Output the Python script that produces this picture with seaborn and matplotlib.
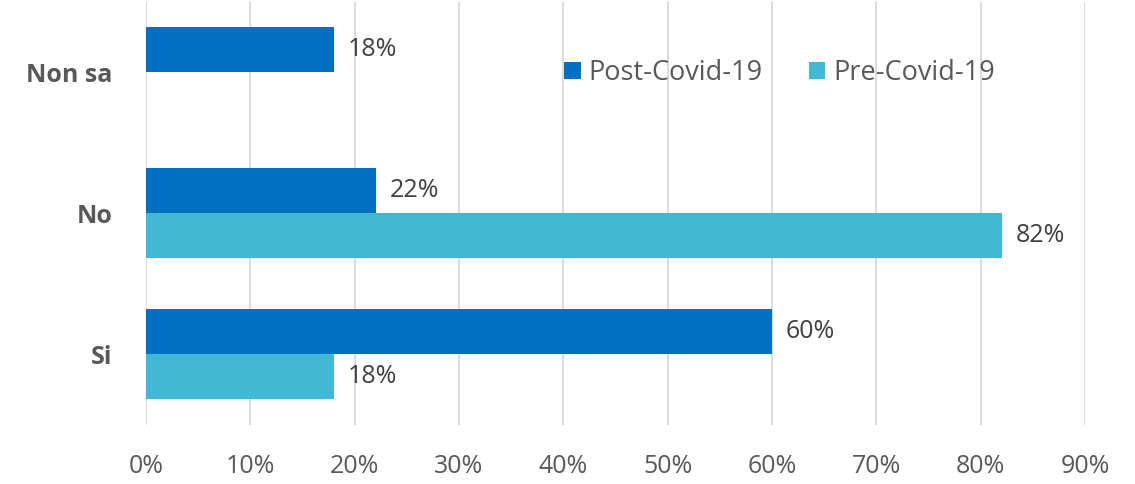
import numpy as np
import pandas as pd
import matplotlib
matplotlib.use("Agg")
import matplotlib.pyplot as plt
import seaborn as sns

categories = ["Non sa", "No", "Si"]
series = ["Post-Covid-19", "Pre-Covid-19"]
post_covid = [18, 22, 60]
pre_covid = [np.nan, 82, 18]
x_ticks = [0, 10, 20, 30, 40, 50, 60, 70, 80, 90]

colors = {"Post-Covid-19": "#0070C0", "Pre-Covid-19": "#41B9D4"}
text_color = "#595959"
label_color = "#404040"

df = pd.DataFrame({
    "Risposta": categories * 2,
    "Periodo": [series[0]] * 3 + [series[1]] * 3,
    "Valore": post_covid + pre_covid,
})

sns.set_theme(style="white")
plt.rcParams["font.family"] = ["Open Sans", "DejaVu Sans"]

fig = plt.figure(figsize=(11.35, 4.84), dpi=100)
ax = fig.add_axes([146 / 1135, 1 - 424.5 / 484, (1085 - 146) / 1135, 423 / 484])

sns.barplot(data=df, x="Valore", y="Risposta", hue="Periodo",
            order=categories, hue_order=series, palette=colors,
            orient="h", width=0.64, ax=ax, errorbar=None, saturation=1,
            linewidth=0)

for cont in ax.containers:
    vals = cont.datavalues
    labels = ["" if np.isnan(v) else f"{v:.0f}%" for v in vals]
    ax.bar_label(cont, labels=labels, padding=10, fontsize=18, color=label_color)

ax.set_xlim(0, 90)
ax.set_ylim(2.5, -0.5)
ax.set_xticks(x_ticks)
ax.set_xticklabels([f"{t}%" for t in x_ticks])
ax.tick_params(axis="x", length=0, pad=21, labelsize=18, labelcolor=text_color)
ax.tick_params(axis="y", length=0, pad=24, labelsize=18, labelcolor=text_color)
for lab in ax.get_yticklabels():
    lab.set_fontweight("bold")
ax.set_xlabel("")
ax.set_ylabel("")
ax.grid(axis="x", color="#D9D9D9", linewidth=1.3)
ax.set_axisbelow(True)
for s in ax.spines.values():
    s.set_visible(False)

ax.legend(loc="center left", bbox_to_anchor=((540 - 146) / 939, (424.5 - 73) / 423),
          ncol=2, frameon=False, fontsize=19.5, labelcolor=text_color,
          handlelength=0.6, handleheight=0.6, handletextpad=0.3, columnspacing=1.7)

fig.savefig("out.png", dpi=100)
